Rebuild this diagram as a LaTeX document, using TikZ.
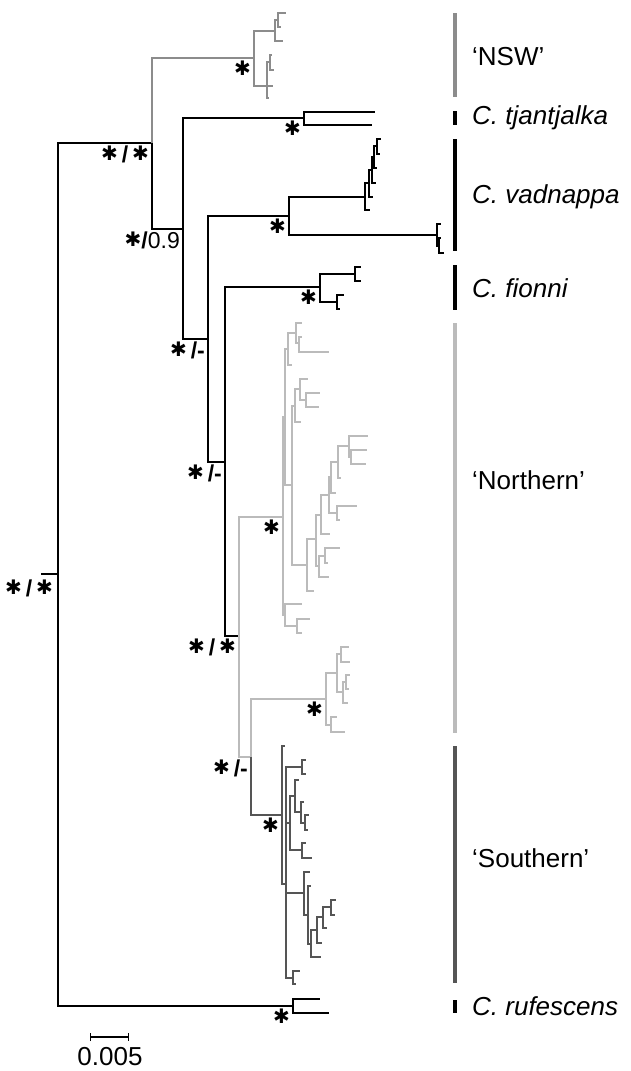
\documentclass[tikz,border=0pt]{standalone}
\usepackage{fontspec}
\setmainfont{Liberation Sans}
\newfontfamily\djv{DejaVu Sans}
\usetikzlibrary{arrows.meta}
\definecolor{nswC}{HTML}{8C8C8C}
\definecolor{norC}{HTML}{BBBBBB}
\definecolor{souC}{HTML}{555555}
\newcommand{\bst}{\raisebox{2pt}{\djv\fontsize{20}{20}\selectfont ✱}}

\begin{document}
\begin{tikzpicture}[x=1pt,y=-1pt,every node/.style={font=\fontsize{26}{28}\selectfont},
  br/.style={line width=1.8pt},
  supp/.style={anchor=north east,inner sep=0pt,xshift=-3pt,yshift=-3pt,font=\fontsize{23}{25}\selectfont},
  bar/.style={line width=4.5pt},
  lab/.style={anchor=west,inner sep=0pt}]
  \useasboundingbox (0,0) rectangle (631,1071);
  \fill[white] (0,0) rectangle (631,1071);
  % backbone, tjantjalka, vadnappa, fionni, rufescens
  \foreach \n/\x/\y in {r0/41/574,r/58/574,a/152/143,b/183/229,c/208/339,d/225/462,e/239/636,g/251/757,
      ru/293/1006,ru1/320/999,ru2/329/1013,tj/304/118,tj1/375/112,tj2/372/125,
      va/289/216,va0/365/197,va0t/370/210,va1/369/183,va1t/373/197,va2/372/170,va2t/376/183,
      va3/374/157,va3t/377/168,va4/377/146,va4t/381/139,va4u/380/154,
      vb/437/235,vbt/441/224,vc/439/246,vc1/441/238,vc2/444/253,
      fi/320/287,fa/355/274,fa1/361/267,fa2/361/281,fb/337/302,fb1/344/295,fb2/340/309}
    \coordinate (\n) at (\x,\y);
  % NSW
  \foreach \n/\x/\y in {ns/254/58,na/275/31,nb/278/20,nb1/286/13,nb2/281/27,nat/283/41,
      nc/267/86,nc1/269/98,nc2/273/86,nd/270/62,nd1/272/55,nd2/274/70}
    \coordinate (\n) at (\x,\y);
  % Northern
  \foreach \n/\x/\y in {no/283/517,q/285/417,s/285/615,q1/288/349,q1t/292/365,q2/296/333,q2t/302/323,
      q3/299/343,q3a/302/337,q3b/329/352,p/292/485,p1/295/406,p2/300/389,p1t/301/422,p2t/308/379,
      p3/306/400,p3a/320/393,p3b/319/407,u0/307/565,u0t/314/591,u1/316/539,u2/321/515,u3/319/566,
      u4/329/495,u2t/330/534,u5/331/477,u6/337/513,u7/338/462,u5t/336/493,u8/349/446,u7t/341/478,
      u8t/368/436,u9/351/457,u9a/367/450,u9b/366/464,u6a/357/506,u6b/340/520,ua/325/556,u3t/329/577,
      ua1/340/548,ua2/328/563,st/302/604,s1/297/626,s1a/310/619,s1b/302/633,
      nl/326/699,la/337/673,lb/331/725,lc/341/654,ld/343/692,lc1/349/647,lc2/350/662,ldt/348/703,
      le/346/682,le1/350/675,le2/349/689,lb1/337/717,lb2/345/732}
    \coordinate (\n) at (\x,\y);
  % Southern
  \foreach \n/\x/\y in {so/282/815,sot/285/746,w1/286/884,wa/302/767,wa1/306/760,wa2/306/774,
      w2/290/823,w3/295/796,w3t/299/780,w4/301/812,w4t/304/802,w5/305/823,w5a/309/815,w5b/308/830,
      wb/302/850,wb1/306/843,wb2/312/858,w7/304/893,w7t/310/872,w8/308/915,w8t/311/886,
      w9/311/944,w10/317/930,w9t/321/957,w11/323/917,w10t/322/943,w12/331/907,w11t/327/928,
      w12a/336/900,w12b/335/915,wc/293/978,wc1/300/971,wc2/296/984}
    \coordinate (\n) at (\x,\y);

  % branches
  \foreach \p/\q in {r0/r,r/a,r/ru,a/b,b/c,c/d,d/e,ru/ru1,ru/ru2,b/tj,tj/tj1,tj/tj2,
      c/va,va/va0,va0/va0t,va0/va1,va1/va1t,va1/va2,va2/va2t,va2/va3,va3/va3t,va3/va4,va4/va4t,va4/va4u,
      va/vb,vb/vbt,vb/vc,vc/vc1,vc/vc2,d/fi,fi/fa,fa/fa1,fa/fa2,fi/fb,fb/fb1,fb/fb2}
    \draw[br] (\p) |- (\q);
  \foreach \p/\q in {a/ns,ns/na,na/nb,nb/nb1,nb/nb2,na/nat,ns/nc,nc/nc1,nc/nc2,nc/nd,nd/nd1,nd/nd2}
    \draw[br,nswC] (\p) |- (\q);
  \foreach \p/\q in {e/no,e/g,g/nl,no/q,no/s,q/q1,q1/q1t,q1/q2,q2/q2t,q2/q3,q3/q3a,q3/q3b,
      q/p,p/p1,p1/p2,p1/p1t,p2/p2t,p2/p3,p3/p3a,p3/p3b,p/u0,u0/u1,u0/u0t,u1/u2,u1/u3,
      u2/u4,u2/u2t,u4/u5,u4/u6,u5/u7,u5/u5t,u7/u8,u7/u7t,u8/u8t,u8/u9,u9/u9a,u9/u9b,
      u6/u6a,u6/u6b,u3/ua,u3/u3t,ua/ua1,ua/ua2,s/st,s/s1,s1/s1a,s1/s1b,
      nl/la,nl/lb,la/lc,la/ld,lc/lc1,lc/lc2,ld/ldt,ld/le,le/le1,le/le2,lb/lb1,lb/lb2}
    \draw[br,norC] (\p) |- (\q);
  \foreach \p/\q in {g/so,so/sot,so/w1,w1/wa,wa/wa1,wa/wa2,w1/w2,w2/w3,w3/w3t,w3/w4,w4/w4t,
      w4/w5,w5/w5a,w5/w5b,w2/wb,wb/wb1,wb/wb2,w1/w7,w7/w7t,w7/w8,w8/w8t,w8/w9,w9/w10,w9/w9t,
      w10/w11,w10/w10t,w11/w12,w11/w11t,w12/w12a,w12/w12b,w1/wc,wc/wc1,wc/wc2}
    \draw[br,souC] (\p) |- (\q);

  % support values
  \node[supp,xshift=-2pt,yshift=-3pt] (sr) at (r) {\bst\,\textbf{/}\,\bst};
  \node[supp] (sa) at (a) {\bst\,\textbf{/}\,\bst};
  \node[supp] (sb) at (b) {\bst\textbf{/}0.9};
  \node[supp] (sc) at (c) {\bst\,\textbf{/-}};
  \node[supp] (sd) at (d) {\bst\,\textbf{/-}};
  \node[supp] (se) at (e) {\bst\,\textbf{/}\,\bst};
  \node[supp] (sg) at (g) {\bst\,\textbf{/-}};
  \foreach \n in {ns,tj,va,fi,no,nl,so,ru}
    \node[supp] (s\n) at (\n) {\bst};

  % clade bars
  \foreach \n/\t/\b/\c in {nsw/13/97/nswC,tja/111/125/black,vad/139/251/black,fio/265/310/black,
      nor/323/733/norC,sou/746/983/souC,ruf/1000/1013/black}{
    \coordinate (\n-t) at (455,\t);
    \coordinate (\n-b) at (455,\b);
    \draw[bar,\c] (\n-t) -- (\n-b);}
  \node[lab] (lnsw) at (472,57) {‘NSW’};
  \node[lab] (ltja) at (472,118) {\textit{C. tjantjalka}};
  \node[lab] (lvad) at (472,197) {\textit{C. vadnappa}};
  \node[lab] (lfio) at (472,288) {\textit{C. fionni}};
  \node[lab] (lnor) at (472,480) {‘Northern’};
  \node[lab] (lsou) at (472,858) {‘Southern’};
  \node[lab] (lruf) at (472,1006) {\textit{C. rufescens}};

  % scale bar
  \coordinate (sb0) at (90,1037);
  \coordinate (sb1) at (129,1037);
  \draw[line width=1.3pt,{Bar[width=8pt]}-{Bar[width=8pt]}] (sb0) -- (sb1);
  \node[anchor=north,inner sep=0pt] (sbl) at (110,1047) {0.005};
\end{tikzpicture}
\end{document}
